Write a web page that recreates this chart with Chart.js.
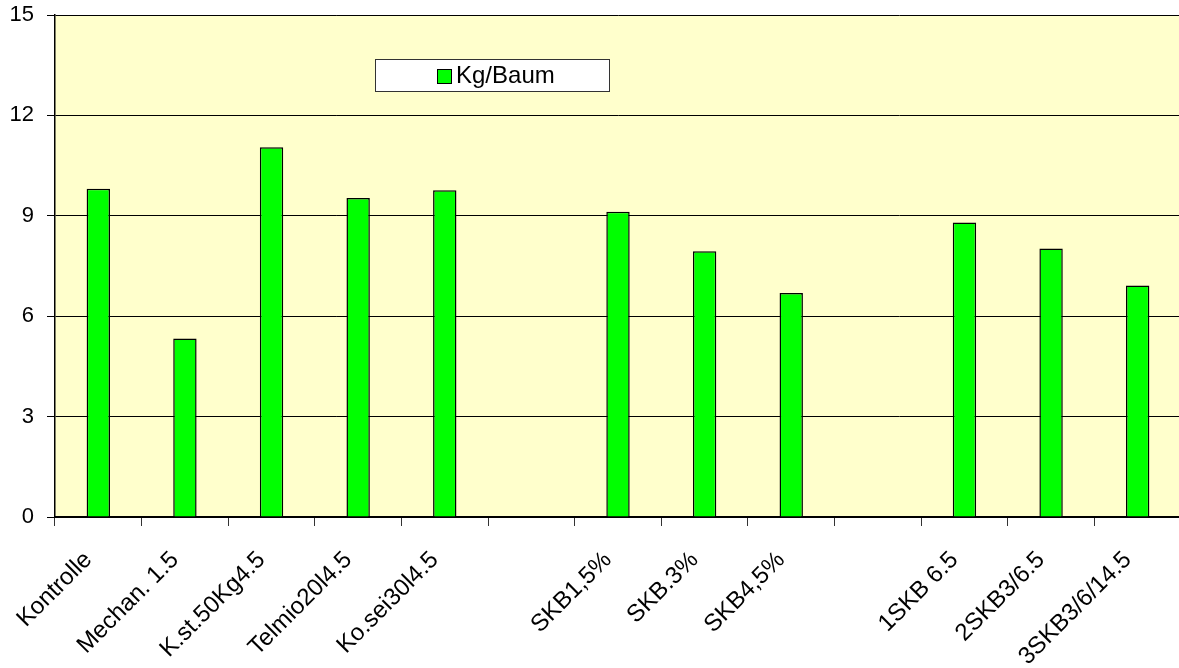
<!DOCTYPE html>
<html>
<head>
<meta charset="utf-8">
<script src="https://cdn.jsdelivr.net/npm/chart.js@4.4.1/dist/chart.umd.min.js"></script>
<style>
  html, body { margin: 0; padding: 0; background: #fff; overflow: hidden; }
  #wrap { width: 1181px; height: 668px; }
  canvas { display: block; }
</style>
</head>
<body>
<div id="wrap"><canvas id="c" width="1181" height="668"></canvas></div>
<script>
// data (empty slots are the gaps between groups)
const categories = ['Kontrolle', 'Mechan. 1.5', 'K.st.50Kg4.5', 'Telmio20l4.5', 'Ko.sei30l4.5', '',
  'SKB1,5%', 'SKB.3%', 'SKB4,5%', '', '1SKB 6.5', '2SKB3/6.5', '3SKB3/6/14.5'];
const kgPerTree = [9.81, 5.33, 11.05, 9.53, 9.76, null, 9.12, 7.94, 6.69, null, 8.80, 8.02, 6.92];
const yTicks = [0, 3, 6, 9, 12, 15];
const seriesName = 'Kg/Baum';

const FONT = 'Liberation Sans, Arial, sans-serif';

/* plot area fill */
const plotBg = {
  id: 'plotBg',
  beforeDraw(chart) {
    const { ctx, chartArea: a } = chart;
    ctx.save();
    ctx.fillStyle = '#FFFFCC';
    ctx.fillRect(a.left, a.top, a.right - a.left, a.bottom - a.top);
    ctx.restore();
  }
};

/* boxed legend sitting inside the plot */
const boxLegend = {
  id: 'boxLegend',
  afterDraw(chart) {
    const { ctx } = chart;
    const ds = chart.data.datasets[0];
    ctx.save();
    ctx.fillStyle = '#fff';
    ctx.fillRect(375.5, 59.5, 234, 32);
    ctx.strokeStyle = '#333';
    ctx.lineWidth = 1;
    ctx.strokeRect(375.5, 59.5, 234, 32);
    ctx.fillStyle = ds.backgroundColor;
    ctx.fillRect(437.5, 69.5, 14, 14);
    ctx.strokeStyle = '#000';
    ctx.strokeRect(437.5, 69.5, 14, 14);
    ctx.fillStyle = '#000';
    ctx.font = '24px ' + FONT;
    ctx.textBaseline = 'middle';
    ctx.textAlign = 'left';
    ctx.fillText(ds.label, 456, 76);
    ctx.restore();
  }
};

new Chart(document.getElementById('c'), {
  type: 'bar',
  data: {
    labels: categories,
    datasets: [{
      label: seriesName,
      data: kgPerTree,
      backgroundColor: '#00FF00',
      borderColor: '#000',
      borderWidth: 1.5,
      categoryPercentage: 1,
      barPercentage: 0.27,
    }]
  },
  options: {
    responsive: false,
    animation: false,
    layout: { padding: { top: 15, right: 0, left: 0, bottom: 0 } },
    plugins: { legend: { display: false }, tooltip: { enabled: false } },
    scales: {
      x: {
        afterFit(s) { s.height = 151; s.paddingLeft = 0; s.paddingRight = 0; },
        grid: { drawOnChartArea: false, drawTicks: true, tickLength: 9, color: '#333', offset: true },
        border: { display: true, color: '#000', width: 2 },
        ticks: {
          autoSkip: false, maxRotation: 45, minRotation: 45, padding: 20, labelOffset: -10,
          color: '#000', font: { family: FONT, size: 24 }
        }
      },
      y: {
        min: 0, max: 15,
        afterFit(s) { s.width = 55; s.paddingTop = 0; s.paddingBottom = 0; },
        afterBuildTicks(s) { s.ticks = yTicks.map(v => ({ value: v })); },
        grid: { color: '#000', lineWidth: 1, tickLength: 8 },
        border: { display: true, color: '#000', width: 1.5 },
        ticks: { padding: 13, color: '#000', font: { family: FONT, size: 22 } }
      }
    }
  },
  plugins: [plotBg, boxLegend]
});
</script>
</body>
</html>
